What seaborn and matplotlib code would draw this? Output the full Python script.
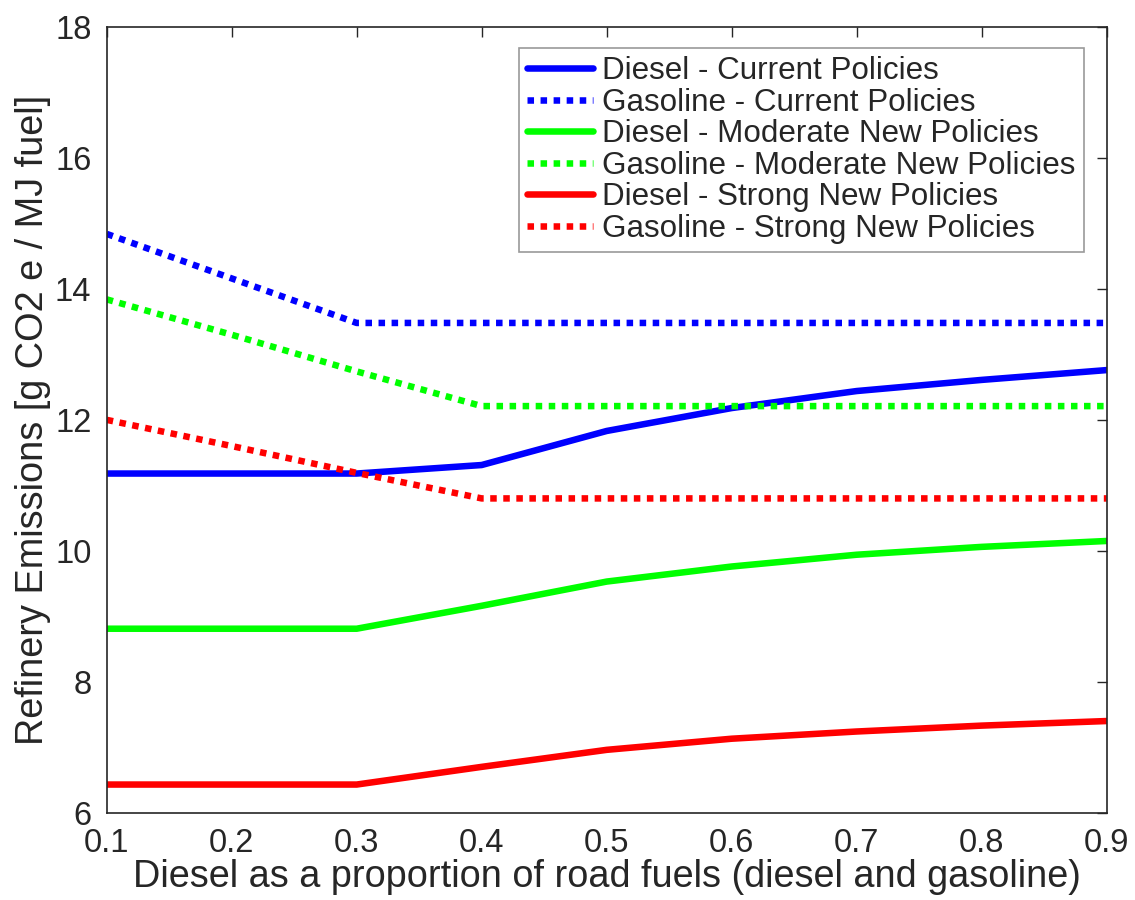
import matplotlib
matplotlib.use("Agg")
import matplotlib.pyplot as plt
import seaborn as sns
import pandas as pd

x_vals = [0.1, 0.2, 0.3, 0.4, 0.5, 0.6, 0.7, 0.8, 0.9]

diesel_current = [11.18, 11.18, 11.18, 11.31, 11.83, 12.18, 12.44, 12.61, 12.76]
gasoline_current = [14.84, 14.16, 13.48, 13.48, 13.48, 13.48, 13.48, 13.48, 13.48]
diesel_moderate = [8.81, 8.81, 8.81, 9.16, 9.53, 9.76, 9.94, 10.06, 10.15]
gasoline_moderate = [13.84, 13.30, 12.74, 12.21, 12.21, 12.21, 12.21, 12.21, 12.21]
diesel_strong = [6.43, 6.43, 6.43, 6.70, 6.96, 7.13, 7.24, 7.33, 7.40]
gasoline_strong = [12.0, 11.60, 11.19, 10.80, 10.80, 10.80, 10.80, 10.80, 10.80]

labels = ["Diesel - Current Policies", "Gasoline - Current Policies",
          "Diesel - Moderate New Policies", "Gasoline - Moderate New Policies",
          "Diesel - Strong New Policies", "Gasoline - Strong New Policies"]
series = [diesel_current, gasoline_current, diesel_moderate,
          gasoline_moderate, diesel_strong, gasoline_strong]
colors = ["#0000ff", "#0000ff", "#00ff00", "#00ff00", "#ff0000", "#ff0000"]
styles = ["-", (0, (1, 1)), "-", (0, (1, 1)), "-", (0, (1, 1))]

x_ticks = [0.1, 0.2, 0.3, 0.4, 0.5, 0.6, 0.7, 0.8, 0.9]
y_ticks = [6, 8, 10, 12, 14, 16, 18]

sns.set_theme(style="white")
plt.rcParams['font.family'] = ['Liberation Sans', 'DejaVu Sans']

fig = plt.figure(figsize=(11.35, 9.0), dpi=100)
ax = fig.add_axes([0.094, 0.097, 0.881, 0.873])

for lab, ys, c, ls in zip(labels, series, colors, styles):
    df = pd.DataFrame({"x": x_vals, "y": ys})
    sns.lineplot(data=df, x="x", y="y", ax=ax, color=c, linewidth=4.7,
                 label=lab, estimator=None)
    ln = ax.get_lines()[-1]
    ln.set_linestyle(ls)
    ln.set_dash_capstyle("butt")

ax.set_xlim(0.1, 0.9)
ax.set_ylim(6, 18)
ax.set_xticks(x_ticks)
ax.set_xticklabels([f"{v:.1f}" for v in x_ticks])
ax.set_yticks(y_ticks)
ax.set_yticklabels([str(v) for v in y_ticks])
ax.tick_params(axis="both", direction="in", length=7, width=1, colors="#262626",
               labelsize=23.5, top=True, right=True, pad=11)
for s in ax.spines.values():
    s.set_color("#262626")
    s.set_linewidth(1.2)
    s.set_visible(True)

ax.set_xlabel("Diesel as a proportion of road fuels (diesel and gasoline)",
              fontsize=27.3, color="#262626", labelpad=0)
ax.set_ylabel("Refinery Emissions [g CO2 e / MJ fuel]", fontsize=27.3,
              color="#262626", labelpad=3)

leg = ax.legend(loc="upper right", bbox_to_anchor=(0.977, 0.973), fontsize=22.6,
                frameon=True, fancybox=False, handlelength=2.1, handletextpad=0.3,
                labelspacing=0.05, borderpad=0.25, borderaxespad=0)
leg.get_frame().set_edgecolor("#808080")
leg.get_frame().set_linewidth(1.2)
for h in leg.get_lines():
    h.set_dash_capstyle("butt")

fig.savefig("out.png", dpi=100, facecolor="white")
